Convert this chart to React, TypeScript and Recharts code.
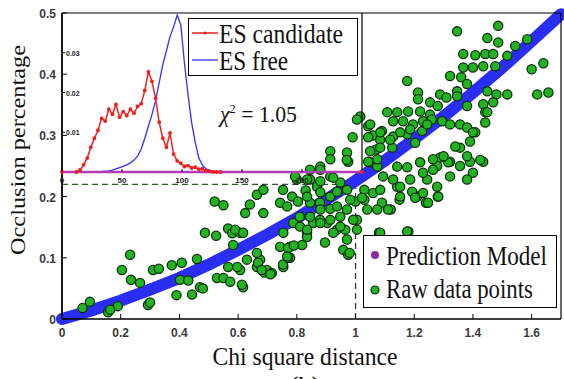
import React from "react";
import { ComposedChart, LineChart, Line, Scatter, XAxis, YAxis, ReferenceLine, Legend } from "recharts";

const X_TICKS = [0, 0.2, 0.4, 0.6, 0.8, 1, 1.2, 1.4, 1.6];
const Y_TICKS = [0, 0.1, 0.2, 0.3, 0.4, 0.5];

const MODEL_X = [0, 0.1, 0.2, 0.3, 0.4, 0.5, 0.6, 0.7, 0.8, 0.9, 1.0, 1.1, 1.2, 1.3, 1.4, 1.5, 1.6, 1.7];
const MODEL_Y = [0, 0.014, 0.03, 0.048, 0.067, 0.089, 0.113, 0.138, 0.165, 0.195, 0.226, 0.259, 0.294, 0.331, 0.37, 0.411, 0.454, 0.498];

const CUT_X = 1;
const CUT_Y = 0.22;

// chi square distance, occlusion percentage
const RAW_POINTS: [number, number][] = [
  [0.07, 0.018], [0.095, 0.028], [0.157, 0.011], [0.19, 0.021], [0.164, 0.015],
  [0.204, 0.08], [0.232, 0.105], [0.235, 0.064], [0.266, 0.059], [0.293, 0.023], [0.3, 0.027],
  [0.31, 0.08], [0.33, 0.082], [0.374, 0.088], [0.408, 0.092], [0.46, 0.098], [0.402, 0.064],
  [0.43, 0.063], [0.39, 0.039], [0.443, 0.04], [0.47, 0.052], [0.48, 0.05],
  [0.487, 0.141], [0.525, 0.136], [0.52, 0.192], [0.55, 0.186], [0.566, 0.148], [0.58, 0.14],
  [0.607, 0.141], [0.64, 0.187], [0.686, 0.173], [0.624, 0.173],
  [0.528, 0.067], [0.55, 0.067], [0.573, 0.061], [0.566, 0.085], [0.607, 0.08], [0.617, 0.052],
  [0.63, 0.097], [0.664, 0.085], [0.675, 0.097], [0.69, 0.076], [0.698, 0.08], [0.715, 0.075],
  [0.754, 0.085], [0.777, 0.1], [0.754, 0.141], [0.777, 0.118], [0.788, 0.157], [0.743, 0.19],
  [0.664, 0.203], [0.686, 0.211],
  [0.59, 0.146], [0.617, 0.141], [0.583, 0.121], [0.597, 0.085], [0.613, 0.056], [0.668, 0.092],
  [0.68, 0.08], [0.71, 0.073], [0.664, 0.108], [0.753, 0.089], [0.77, 0.1], [0.743, 0.118],
  [0.77, 0.116], [0.818, 0.121], [0.835, 0.141], [0.811, 0.151], [0.856, 0.157], [0.879, 0.162],
  [0.903, 0.157], [0.896, 0.125], [0.937, 0.146], [0.965, 0.146], [0.971, 0.13], [0.958, 0.113],
  [0.975, 0.105], [1.005, 0.162], [1.005, 0.146], [0.948, 0.167], [0.914, 0.18],
  [0.753, 0.211], [0.784, 0.2], [0.845, 0.228], [0.869, 0.216], [0.83, 0.21], [0.767, 0.184],
  [0.804, 0.192], [0.845, 0.19], [0.879, 0.19], [0.914, 0.2], [0.937, 0.184], [0.971, 0.179],
  [1.0, 0.192], [1.03, 0.211], [1.04, 0.179], [0.971, 0.211], [0.948, 0.223], [0.914, 0.233],
  [0.8, 0.228], [0.88, 0.249],
  [0.99, 0.297], [0.914, 0.274], [0.914, 0.261], [0.971, 0.272], [0.975, 0.257], [1.06, 0.3],
  [1.07, 0.277], [1.05, 0.256], [1.016, 0.331], [1.043, 0.315], [1.005, 0.326],
  [0.794, 0.233], [0.845, 0.244], [0.88, 0.244], [0.97, 0.26],
  [1.08, 0.141], [1.18, 0.143], [1.21, 0.2], [1.24, 0.19], [1.28, 0.2], [0.98, 0.108],
  [0.835, 0.134], [0.767, 0.102], [0.79, 0.12], [0.81, 0.167], [1.03, 0.195], [1.09, 0.19],
  [1.12, 0.179], [1.15, 0.195], [1.06, 0.206],
  [1.346, 0.47], [1.486, 0.479], [1.449, 0.459], [1.486, 0.452], [1.585, 0.457], [1.544, 0.446],
  [1.367, 0.433], [1.408, 0.431], [1.442, 0.433], [1.469, 0.433], [1.517, 0.43], [1.367, 0.411],
  [1.4, 0.411], [1.435, 0.413], [1.476, 0.413], [1.6, 0.408], [1.64, 0.418], [1.322, 0.397],
  [1.36, 0.395], [1.38, 0.384], [1.346, 0.372], [1.176, 0.389], [1.213, 0.37], [1.213, 0.359],
  [1.288, 0.367], [1.31, 0.362], [1.346, 0.364], [1.449, 0.372], [1.48, 0.367], [1.517, 0.367],
  [1.619, 0.367], [1.657, 0.37], [1.469, 0.354], [1.435, 0.351], [1.442, 0.338], [1.442, 0.321],
  [1.108, 0.338], [1.142, 0.338], [1.179, 0.339], [1.22, 0.339], [1.254, 0.354], [1.28, 0.348],
  [1.254, 0.334], [1.05, 0.318], [1.09, 0.307], [1.128, 0.323], [1.162, 0.323], [1.196, 0.318],
  [1.23, 0.323], [1.26, 0.326], [1.295, 0.323], [1.322, 0.318], [1.356, 0.318], [1.38, 0.313],
  [1.408, 0.305], [1.043, 0.297], [1.084, 0.293], [1.128, 0.298], [1.176, 0.302], [1.227, 0.307],
  [1.05, 0.274], [1.084, 0.28], [1.125, 0.28], [1.322, 0.257], [1.39, 0.257], [1.435, 0.257],
  [1.288, 0.264], [1.356, 0.28], [1.39, 0.29],
  [1.38, 0.348], [1.449, 0.338], [1.4, 0.305], [1.425, 0.26], [1.38, 0.266], [1.34, 0.282],
  [1.316, 0.256], [1.356, 0.25], [1.4, 0.239], [1.38, 0.228], [1.278, 0.25], [1.244, 0.228],
  [1.278, 0.216], [1.322, 0.233], [1.23, 0.206], [1.193, 0.208], [1.142, 0.216], [1.094, 0.233],
  [1.074, 0.249],
  [1.084, 0.305], [1.118, 0.293], [1.152, 0.305], [1.186, 0.31], [1.244, 0.318], [1.203, 0.288],
  [1.043, 0.257], [1.074, 0.261], [0.835, 0.2], [0.88, 0.207], [0.937, 0.208], [0.982, 0.195],
  [1.022, 0.198], [1.084, 0.211], [1.128, 0.228], [1.152, 0.216], [1.186, 0.228], [1.23, 0.239],
  [1.264, 0.244], [1.176, 0.248], [1.142, 0.249], [1.22, 0.256], [1.264, 0.261], [1.3, 0.266],
  [1.203, 0.198], [1.247, 0.19], [1.282, 0.2], [1.152, 0.2], [1.111, 0.179], [1.074, 0.179],
  [0.88, 0.179], [0.845, 0.167], [0.88, 0.157], [0.914, 0.162], [0.948, 0.151], [0.992, 0.162],
  [0.835, 0.146], [0.924, 0.141], [1.084, 0.141], [1.176, 0.143], [0.835, 0.228], [0.88, 0.225],
  [0.924, 0.231],
];

// inset histogram
const INSET_BINS = [0, 12, 15, 18, 21, 24, 27, 30, 33, 36, 39, 42, 45, 48, 51, 54, 57, 60, 63, 66, 69, 72, 75, 78, 81, 84, 87, 90, 93, 96, 99, 102, 105, 108, 111, 114, 117, 120, 123, 126, 129, 132, 250];
const ES_CANDIDATE = [0, 0, 0.0005, 0.0018, 0.0035, 0.0062, 0.0085, 0.0105, 0.0135, 0.0128, 0.0158, 0.0145, 0.017, 0.0138, 0.0152, 0.0142, 0.0158, 0.0148, 0.0165, 0.0172, 0.0205, 0.0252, 0.0228, 0.0185, 0.0125, 0.0085, 0.0062, 0.0098, 0.0045, 0.0028, 0.0022, 0.0014, 0.0016, 0.001, 0.0012, 0.0007, 0.0008, 0.0003, 0.0002, 0, 0, 0, 0];
const ES_FREE = [0, 0, 0, 0, 0, 0, 0, 0, 0.0001, 0.0002, 0.0003, 0.0005, 0.0008, 0.0011, 0.0014, 0.0018, 0.0023, 0.003, 0.004, 0.0058, 0.0085, 0.0115, 0.0145, 0.018, 0.0225, 0.027, 0.0305, 0.034, 0.0365, 0.0395, 0.037, 0.0275, 0.0195, 0.0125, 0.0075, 0.0035, 0.0018, 0.0008, 0.0004, 0.0002, 0.0001, 0, 0];
const INSET_X_TICKS = [0, 50, 100, 150, 200];
const INSET_Y_TICKS = [0.01, 0.02, 0.03];
const CHI_TEXT = "1.05";

const SERIF = '"Liberation Serif", "Times New Roman", serif';
const SANS = '"Liberation Sans", Arial, sans-serif';
const tickFont = { fontFamily: SANS, fontSize: 12, fontWeight: 700, fill: "#3a3a3a" };
const insetFont = { fontFamily: SANS, fontSize: 7, fontWeight: 700, fill: "#222" };

const GREEN = "#22b222";
const GREEN_EDGE = "#0a320a";
const BAND = "#2a2ef5";

const modelData = MODEL_X.map((x, i) => ({ x, y: MODEL_Y[i] }));
const rawData = RAW_POINTS.map(([x, y]) => ({ x, y }));
const insetData = INSET_BINS.map((bin, i) => ({ bin, cand: ES_CANDIDATE[i], free: ES_FREE[i] }));

// tick props x/y sit on the axis line because tickSize and tickMargin are 0
const bottomTick = ({ x, y, payload }: any) => (
  <g>
    <line x1={x} x2={x} y1={y} y2={y - 5} stroke="#000" />
    <text x={x} y={y + 18} textAnchor="middle" style={tickFont}>{String(payload.value)}</text>
  </g>
);
const leftTick = ({ x, y, payload }: any) => (
  <g>
    <line x1={x} x2={x + 5} y1={y} y2={y} stroke="#000" />
    <text x={x - 6} y={y + 5} textAnchor="end" style={tickFont}>{String(payload.value)}</text>
  </g>
);
const topTick = ({ x, y }: any) => <line x1={x} x2={x} y1={y} y2={y + 5} stroke="#000" />;
const rightTick = ({ x, y }: any) => <line x1={x} x2={x - 5} y1={y} y2={y} stroke="#000" />;

const insetBottomTick = ({ x, y, payload }: any) => (
  <g>
    <line x1={x} x2={x} y1={y} y2={y - 3} stroke="#000" />
    <text x={x} y={y + 11} textAnchor="middle" style={{ ...insetFont, fontSize: 8 }}>{String(payload.value)}</text>
  </g>
);
const insetLeftTick = ({ x, y, payload }: any) => (
  <g>
    <line x1={x} x2={x + 3} y1={y} y2={y} stroke="#000" />
    <text x={x + 4} y={y + 3} textAnchor="start" style={insetFont}>{String(payload.value)}</text>
  </g>
);
const insetRightTick = ({ x, y }: any) => <line x1={x} x2={x - 4} y1={y} y2={y} stroke="#000" />;

const rawDot = (p: any) => (
  <circle cx={p.cx} cy={p.cy} r={4.6} fill={GREEN} stroke={GREEN_EDGE} strokeWidth={1.3} />
);

function MainLegend() {
  return (
    <div style={{ width: 194, height: 73, boxSizing: "border-box", border: "1.5px solid #000", background: "#fff" }}>
      <svg width={191} height={70} style={{ display: "block" }}>
        <circle cx={11} cy={19} r={4} fill="#8a2c9e" />
        <text x={22} y={29} fontFamily={SERIF} fontSize={27} fill="#111" textLength={161} lengthAdjust="spacingAndGlyphs">
          Prediction Model
        </text>
        <circle cx={11} cy={54} r={4} fill={GREEN} stroke={GREEN_EDGE} strokeWidth={1.2} />
        <text x={22} y={62} fontFamily={SERIF} fontSize={27} fill="#111" textLength={147} lengthAdjust="spacingAndGlyphs">
          Raw data points
        </text>
      </svg>
    </div>
  );
}

function InsetLegend() {
  return (
    <div style={{ width: 170, height: 58, boxSizing: "border-box", border: "1.5px solid #000", background: "#fff" }}>
      <svg width={167} height={55} style={{ display: "block" }}>
        <line x1={3} x2={29} y1={14} y2={14} stroke="#f02020" strokeWidth={1.5} />
        <circle cx={16} cy={14} r={1.5} fill="#f02020" />
        <text x={30} y={24} fontFamily={SERIF} fontSize={27} fill="#111" textLength={124} lengthAdjust="spacingAndGlyphs">
          ES candidate
        </text>
        <line x1={3} x2={29} y1={41} y2={41} stroke="#3030ff" strokeWidth={1.3} />
        <text x={30} y={51} fontFamily={SERIF} fontSize={27} fill="#111" textLength={69} lengthAdjust="spacingAndGlyphs">
          ES free
        </text>
      </svg>
    </div>
  );
}

export default function App() {
  return (
    <div style={{ position: "absolute", left: 0, top: 0, width: 564, height: 379, background: "#fff", overflow: "hidden" }}>
      <style>{".recharts-surface{overflow:visible}"}</style>
      <ComposedChart width={564} height={379} margin={{ top: 12, right: 2, bottom: 30, left: 22 }}>
        <XAxis type="number" dataKey="x" domain={[0, 1.7]} ticks={X_TICKS} interval={0} height={30}
          tickSize={0} tickMargin={0} tickLine={false} tick={bottomTick} axisLine={{ stroke: "#000", strokeWidth: 1.6 }} />
        <XAxis xAxisId="top" orientation="top" type="number" dataKey="x" domain={[0, 1.7]} ticks={X_TICKS} interval={0}
          height={1} tickSize={0} tickMargin={0} tickLine={false} tick={topTick} axisLine={{ stroke: "#000", strokeWidth: 1.2 }} />
        <YAxis type="number" dataKey="y" domain={[0, 0.5]} ticks={Y_TICKS} interval={0} width={40}
          tickSize={0} tickMargin={0} tickLine={false} tick={leftTick} axisLine={{ stroke: "#000", strokeWidth: 1.8 }} />
        <YAxis yAxisId="right" orientation="right" type="number" dataKey="y" domain={[0, 0.5]} ticks={Y_TICKS} interval={0}
          width={1} tickSize={0} tickMargin={0} tickLine={false} tick={rightTick} axisLine={{ stroke: "#000", strokeWidth: 1.2 }} />
        <ReferenceLine segment={[{ x: 0, y: CUT_Y }, { x: CUT_X, y: CUT_Y }]} stroke="#2f5a2f" strokeWidth={1.3} strokeDasharray="6 4" />
        <ReferenceLine segment={[{ x: CUT_X, y: 0 }, { x: CUT_X, y: CUT_Y }]} stroke="#333" strokeWidth={1.3} strokeDasharray="6 4" />
        <Scatter data={rawData} dataKey="y" shape={rawDot} isAnimationActive={false} />
        <Line data={modelData} dataKey="y" type="linear" stroke={BAND} strokeWidth={12} strokeLinecap="round"
          dot={false} activeDot={false} isAnimationActive={false} />
        <Legend verticalAlign="middle" align="center" wrapperStyle={{ left: 363, top: 235, width: 194, height: 73 }}
          content={() => <MainLegend />} />
        <text x={305} y={365} textAnchor="middle" fontFamily={SERIF} fontSize={26} fill="#111" textLength={185} lengthAdjust="spacingAndGlyphs">
          Chi square distance
        </text>
        <text x={305} y={394} textAnchor="middle" fontFamily={SERIF} fontSize={26} fill="#111">(b)</text>
        <text x={0} y={0} transform="translate(25,150) rotate(-90) scale(1,0.85)" textAnchor="middle" fontFamily={SERIF}
          fontSize={24} fill="#111" textLength={210} lengthAdjust="spacingAndGlyphs">
          Occlusion percentage
        </text>
      </ComposedChart>

      <div style={{ position: "absolute", left: 61, top: 13 }}>
        <LineChart width={302} height={171} data={insetData} margin={{ top: 0, right: 0, bottom: 0, left: 0 }}>
          <XAxis type="number" dataKey="bin" domain={[0, 250]} ticks={INSET_X_TICKS} interval={0} height={12}
            tickSize={0} tickMargin={0} tickLine={false} axisLine={false} tick={insetBottomTick} />
          <YAxis type="number" domain={[0, 0.04]} ticks={INSET_Y_TICKS} interval={0} width={1}
            tickSize={0} tickMargin={0} tickLine={false} axisLine={false} tick={insetLeftTick} />
          <YAxis yAxisId="r" orientation="right" type="number" domain={[0, 0.04]} ticks={INSET_Y_TICKS} interval={0} width={1}
            tickSize={0} tickMargin={0} tickLine={false} axisLine={{ stroke: "#000", strokeWidth: 1.2 }} tick={insetRightTick} />
          <Line dataKey="free" type="linear" stroke="#3030ff" strokeWidth={1.3} dot={false} activeDot={false} isAnimationActive={false} />
          <Line dataKey="cand" type="linear" stroke="#f02020" strokeWidth={1.5}
            dot={{ r: 1.2, fill: "#f02020", stroke: "#f02020" }} activeDot={false} isAnimationActive={false} />
          <ReferenceLine y={0} stroke="#b03cb8" strokeWidth={2.5} />
          <Legend verticalAlign="middle" align="center" wrapperStyle={{ left: 127, top: 5, width: 170, height: 58 }}
            content={() => <InsetLegend />} />
          <text x={159} y={109} fontFamily={SERIF} fontSize={23} fill="#111" textLength={77} lengthAdjust="spacingAndGlyphs">
            <tspan fontStyle="italic">χ</tspan>
            <tspan fontSize={13} dy={-9}>2</tspan>
            <tspan dy={9}>{" = " + CHI_TEXT}</tspan>
          </text>
        </LineChart>
      </div>
    </div>
  );
}
